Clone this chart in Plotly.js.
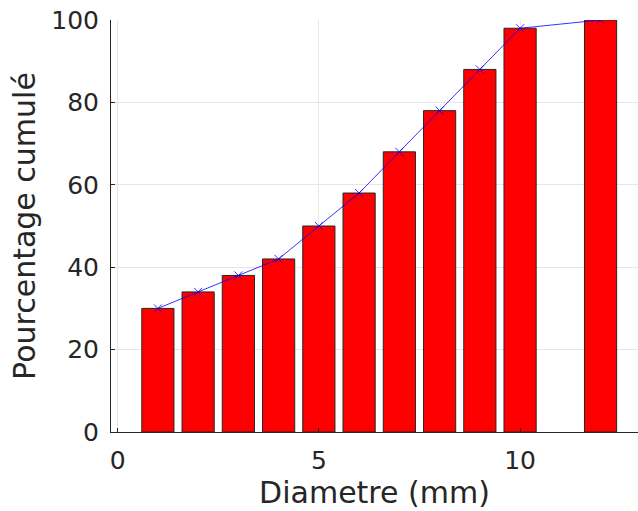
<!DOCTYPE html>
<html><head><meta charset="utf-8">
<script src="https://cdn.plot.ly/plotly-3.0.1.min.js"></script>
<style>body{margin:0;padding:0;}#c{width:638px;height:511px;}</style>
</head><body><div id="c"></div>
<script>
const diam = [1,2,3,4,5,6,7,8,9,10,12];
const cumul = [30,34,38,42,50,58,68,78,88,98,100];
const xTicks = [0,5,10];
const yTicks = [0,20,40,60,80,100];
const font = {family:'DejaVu Sans', color:'#262626'};
Plotly.newPlot('c', [
  {type:'bar', x:diam, y:cumul, width:0.8,
   marker:{color:'#ff0000', line:{color:'#262626', width:1}}, hoverinfo:'x+y'},
  {type:'scatter', mode:'lines+markers', x:diam, y:cumul,
   line:{color:'rgba(0,0,255,0.8)', width:1},
   marker:{symbol:'x-thin-open', size:8, color:'rgba(0,0,255,0.8)', line:{color:'rgba(0,0,255,0.8)', width:1}}}
], {
  width:638, height:511, showlegend:false,
  margin:{l:111, r:0, t:20, b:79},
  paper_bgcolor:'#fff', plot_bgcolor:'#fff',
  font:Object.assign({size:25}, font),
  xaxis:{range:[-0.165,12.93], tickvals:xTicks, ticks:'inside', ticklen:4, tickcolor:'#262626',
    showline:true, linecolor:'#262626', linewidth:1, showgrid:true, gridcolor:'#e6e6e6', zeroline:false,
    tickfont:Object.assign({size:25}, font), ticklabelstandoff:6,
    title:{text:'Diametre (mm)', font:Object.assign({size:30}, font), standoff:2}},
  yaxis:{range:[0,100], tickvals:yTicks, ticks:'inside', ticklen:4, tickcolor:'#262626',
    showline:true, linecolor:'#262626', linewidth:1, showgrid:true, gridcolor:'#e6e6e6', zeroline:false,
    tickfont:Object.assign({size:25}, font), ticklabelstandoff:6,
    title:{text:'Pourcentage cumulé', font:Object.assign({size:30}, font), standoff:6}}
}, {displayModeBar:false, staticPlot:true});
</script></body></html>
